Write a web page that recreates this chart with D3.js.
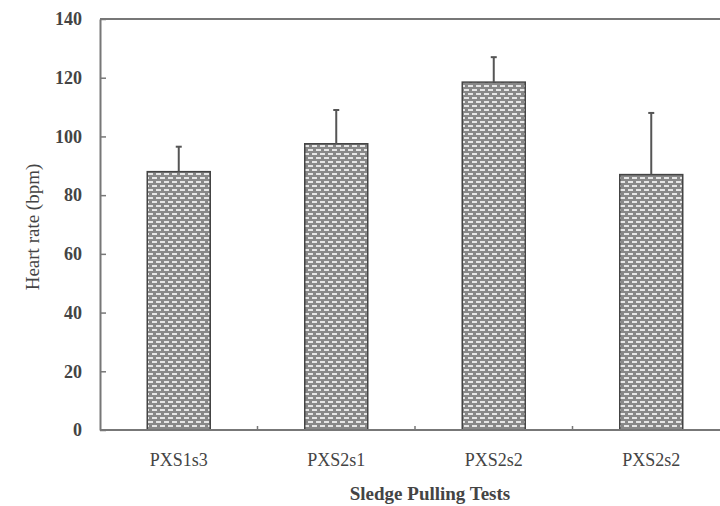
<!DOCTYPE html>
<html>
<head>
<meta charset="utf-8">
<script src="https://cdn.jsdelivr.net/npm/d3@7"></script>
<style>
  body { margin: 0; background: #fff; }
  text { font-family: "Liberation Serif", "Times New Roman", serif; fill: #444; }
</style>
</head>
<body>
<div id="chart"></div>
<script>
let tests = ["PXS1s3", "PXS2s1", "PXS2s2", "PXS2s2"];
let heartRate = [88, 97.5, 118.5, 87];
let errorTop = [96.5, 109, 127, 108];
let yTicks = [0, 20, 40, 60, 80, 100, 120, 140];

let width = 720, height = 506;
let plotLeft = 100, plotTop = 19, plotRight = 730, plotBottom = 430;

let svg = d3.select("#chart")
            .append("svg")
            .attr("width", width)
            .attr("height", height);

// brick fill like the original
let defs = svg.append("defs");
let pat = defs.append("pattern")
    .attr("id", "brick")
    .attr("patternUnits", "userSpaceOnUse")
    .attr("width", 8)
    .attr("height", 8);
pat.append("rect").attr("width", 8).attr("height", 8).attr("fill", "#888");
pat.append("rect").attr("x", 0).attr("y", 1).attr("width", 5).attr("height", 2).attr("fill", "#e6e6e6");
pat.append("rect").attr("x", 4).attr("y", 5).attr("width", 5).attr("height", 2).attr("fill", "#e6e6e6");
pat.append("rect").attr("x", -4).attr("y", 5).attr("width", 5).attr("height", 2).attr("fill", "#e6e6e6");

let idx = tests.map((t, i) => i);
let xb = d3.scaleBand().domain(idx).range([plotLeft, plotRight]);
let y = d3.scaleLinear().domain([0, 140]).range([plotBottom, plotTop]);
let cx = i => xb(i) + xb.bandwidth() / 2;
let barW = 63;

// frame: top line
svg.append("line")
    .attr("x1", plotLeft).attr("x2", width)
    .attr("y1", y(140)).attr("y2", y(140))
    .attr("stroke", "#777").attr("stroke-width", 2);

// y axis
let yAxis = svg.append("g")
    .attr("transform", `translate(${plotLeft},0)`)
    .call(d3.axisLeft(y).tickValues(yTicks).tickSizeInner(-6).tickSizeOuter(0).tickPadding(18));
yAxis.select(".domain").attr("stroke", "#777").attr("stroke-width", 2);
yAxis.selectAll(".tick line").attr("stroke", "#777").attr("stroke-width", 1.5);
yAxis.selectAll("text")
    .attr("font-size", 18)
    .attr("font-weight", "bold")
    .attr("fill", "#555");

// bars
svg.selectAll(".bar")
    .data(heartRate)
    .enter().append("rect")
    .attr("class", "bar")
    .attr("x", (d, i) => cx(i) - barW / 2)
    .attr("width", barW)
    .attr("y", d => y(d))
    .attr("height", d => y(0) - y(d))
    .attr("fill", "url(#brick)")
    .attr("stroke", "#444")
    .attr("stroke-width", 1.5);

// error bars
svg.selectAll(".err")
    .data(errorTop)
    .enter().append("line")
    .attr("class", "err")
    .attr("x1", (d, i) => cx(i))
    .attr("x2", (d, i) => cx(i))
    .attr("y1", (d, i) => y(heartRate[i]))
    .attr("y2", d => y(d))
    .attr("stroke", "#555").attr("stroke-width", 2);
svg.selectAll(".cap")
    .data(errorTop)
    .enter().append("line")
    .attr("class", "cap")
    .attr("x1", (d, i) => cx(i) - 3)
    .attr("x2", (d, i) => cx(i) + 3)
    .attr("y1", d => y(d))
    .attr("y2", d => y(d))
    .attr("stroke", "#555").attr("stroke-width", 2);

// x axis
svg.append("line")
    .attr("x1", plotLeft).attr("x2", width)
    .attr("y1", plotBottom).attr("y2", plotBottom)
    .attr("stroke", "#777").attr("stroke-width", 2);
svg.selectAll(".xtick")
    .data(idx.slice(1))
    .enter().append("line")
    .attr("class", "xtick")
    .attr("x1", d => xb(d)).attr("x2", d => xb(d))
    .attr("y1", plotBottom).attr("y2", plotBottom - 4)
    .attr("stroke", "#777").attr("stroke-width", 1.5);
svg.selectAll(".xlab")
    .data(tests)
    .enter().append("text")
    .attr("class", "xlab")
    .attr("x", (d, i) => cx(i))
    .attr("y", 466)
    .attr("text-anchor", "middle")
    .attr("font-size", 18)
    .attr("fill", "#555")
    .text(d => d);

// titles
svg.append("text")
    .attr("x", 430).attr("y", 500)
    .attr("text-anchor", "middle")
    .attr("font-size", 19)
    .attr("font-weight", "bold")
    .attr("fill", "#333")
    .text("Sledge Pulling Tests");

svg.append("text")
    .attr("transform", "translate(39,227) rotate(-90)")
    .attr("text-anchor", "middle")
    .attr("font-size", 19)
    .attr("fill", "#333")
    .text("Heart rate (bpm)");
</script>
</body>
</html>
